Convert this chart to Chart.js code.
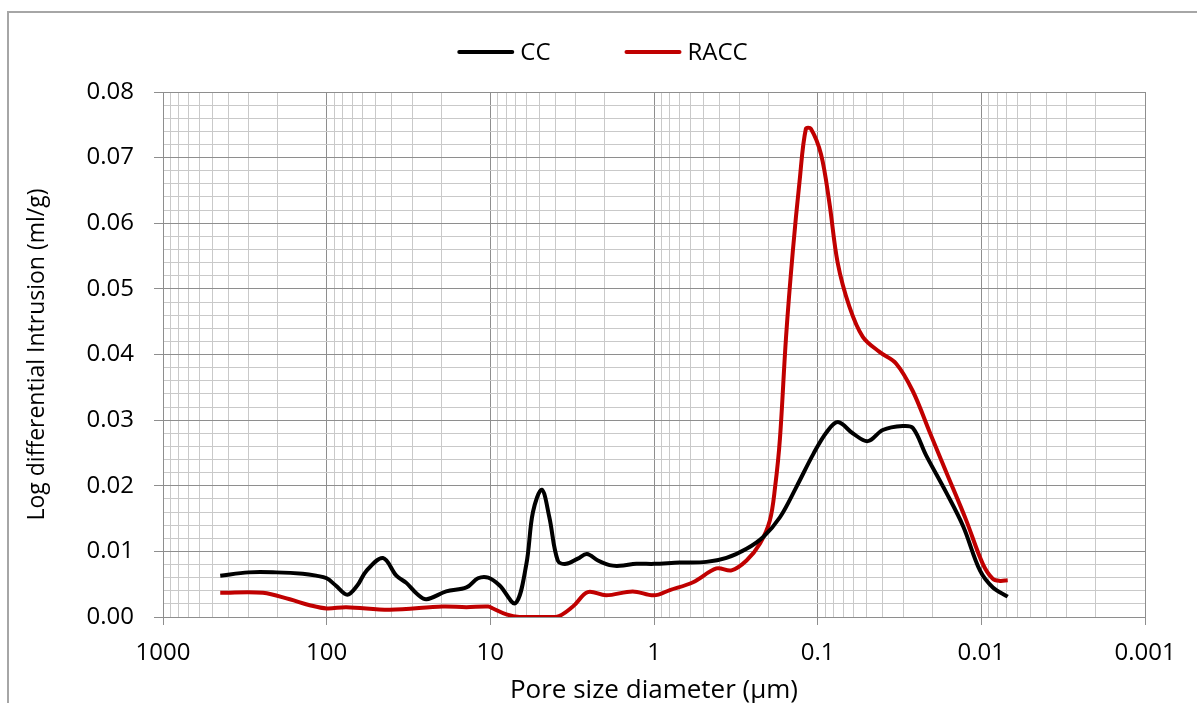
<!DOCTYPE html>
<html>
<head>
<meta charset="utf-8">
<script src="https://cdn.jsdelivr.net/npm/chart.js@4/dist/chart.umd.min.js"></script>
<style>
  html, body { margin: 0; padding: 0; background: #ffffff; overflow: hidden; }
  #wrap { position: relative; width: 1197px; height: 703px; }
</style>
</head>
<body>
<div id="wrap"><canvas id="poreChart" width="1197" height="703"></canvas></div>
<script>
// 孔径 (µm) 与对数微分压入量 (ml/g)
const ccSize = [447, 300, 203, 140, 116, 100, 88, 74.8, 65, 57.3,
    45.3, 37.5, 32.6, 28, 24.6, 18.6, 14.0, 11.9, 10.3, 8.77,
    7.03, 6.03, 5.49, 4.85, 4.36, 3.87, 3.44, 2.92, 2.57, 2.20,
    1.87, 1.62, 1.28, 1.0, 0.697, 0.479, 0.361, 0.272, 0.215, 0.170,
    0.135, 0.106, 0.088, 0.0752, 0.0611, 0.0494, 0.040, 0.0302, 0.0262, 0.0217,
    0.0164, 0.0129, 0.0102, 0.0085, 0.0069];
const ccValue = [0.0063, 0.0068, 0.0068, 0.0066, 0.0063, 0.0059, 0.0048, 0.0034, 0.0048, 0.0070,
    0.0090, 0.0063, 0.0052, 0.0035, 0.0027, 0.0039, 0.0045, 0.0059, 0.0060, 0.0048,
    0.0021, 0.0080, 0.0160, 0.0194, 0.0152, 0.0086, 0.0081, 0.0089, 0.0096, 0.0086,
    0.0079, 0.0078, 0.0081, 0.0081, 0.0083, 0.0084, 0.0090, 0.0104, 0.0122, 0.0152,
    0.0198, 0.0249, 0.0282, 0.0297, 0.0280, 0.0268, 0.0285, 0.0291, 0.0288, 0.0246,
    0.0190, 0.0138, 0.0071, 0.0045, 0.0031];

const raccSize = [447, 245, 168, 127, 100, 75.9, 41.2, 19.5, 14.0, 10.3,
    9.63, 7.98, 6.64, 3.96, 3.13, 2.54, 1.96, 1.35, 1.0, 0.80,
    0.577, 0.415, 0.336, 0.272, 0.225, 0.196, 0.182, 0.170, 0.156, 0.142,
    0.129, 0.118, 0.110, 0.0954, 0.085, 0.0755, 0.064, 0.053, 0.0419, 0.0331,
    0.0262, 0.0207, 0.0164, 0.0124, 0.0098, 0.0085, 0.0077, 0.0069];
const raccValue = [0.0037, 0.0037, 0.0027, 0.0018, 0.0013, 0.0015, 0.0011, 0.0016, 0.0015, 0.0016,
    0.0013, 0.0004, 0.0000, 0.0000, 0.0016, 0.0038, 0.0033, 0.0039, 0.0033, 0.0041,
    0.0053, 0.0074, 0.0071, 0.0086, 0.0112, 0.0147, 0.0198, 0.0272, 0.0427, 0.0556,
    0.0664, 0.0744, 0.0744, 0.0705, 0.0633, 0.0540, 0.0473, 0.0427, 0.0404, 0.0386,
    0.0344, 0.0282, 0.0221, 0.0148, 0.0081, 0.0058, 0.0055, 0.0056];

// 坐标轴范围
const xMin = 0.001;
const xMax = 1000;
const yMin = 0;
const yMax = 0.08;
const yStep = 0.002;

const FONT = '"Open Sans", Lato, sans-serif';
const MAJOR_GRID = '#8e8e8e';
const MINOR_GRID = '#c9c9c9';

function toPoints(xs, ys) {
    return xs.map(function(x, i) { return { x: x, y: ys[i] }; });
}

function isDecade(v) {
    const l = Math.log10(v);
    return Math.abs(l - Math.round(l)) < 1e-9;
}

function isYMajor(v) {
    return Math.abs(v * 100 - Math.round(v * 100)) < 1e-6;
}

// 外框
const frame = {
    id: 'frame',
    beforeDraw: function(chart) {
        const ctx = chart.ctx;
        ctx.save();
        ctx.fillStyle = '#ffffff';
        ctx.fillRect(0, 0, chart.width, chart.height);
        ctx.strokeStyle = '#a6a6a6';
        ctx.lineWidth = 2;
        ctx.strokeRect(8, 12, 1400, 1000);
        ctx.restore();
    }
};

// 图例（线段 + 文字，居中排在顶部）
const lineLegend = {
    id: 'lineLegend',
    afterDraw: function(chart) {
        const ctx = chart.ctx;
        const sets = chart.data.datasets;
        const lineLen = 57, textGap = 6, itemGap = 74, y = 52;
        ctx.save();
        ctx.font = '24px ' + FONT;
        ctx.textBaseline = 'middle';
        let total = 0;
        sets.forEach(function(ds, i) {
            total += lineLen + textGap + ctx.measureText(ds.label).width;
            if (i > 0) total += itemGap;
        });
        let x = chart.width / 2 + 4 - total / 2;
        sets.forEach(function(ds) {
            ctx.strokeStyle = ds.borderColor;
            ctx.lineWidth = 4;
            ctx.lineCap = 'round';
            ctx.beginPath();
            ctx.moveTo(x + 2, y);
            ctx.lineTo(x + lineLen - 2, y);
            ctx.stroke();
            x += lineLen + textGap;
            ctx.fillStyle = '#000000';
            ctx.fillText(ds.label, x, y + 1);
            x += ctx.measureText(ds.label).width + itemGap;
        });
        ctx.restore();
    }
};

const ctx = document.getElementById('poreChart').getContext('2d');
const chart = new Chart(ctx, {
    type: 'line',
    data: {
        datasets: [
            {
                label: 'CC',
                data: toPoints(ccSize, ccValue),
                borderColor: '#000000',
                backgroundColor: '#000000',
                borderWidth: 4,
                pointRadius: 0,
                tension: 0.35,
                fill: false
            },
            {
                label: 'RACC',
                data: toPoints(raccSize, raccValue),
                borderColor: '#c00000',
                backgroundColor: '#c00000',
                borderWidth: 4,
                pointRadius: 0,
                tension: 0.35,
                fill: false
            }
        ]
    },
    options: {
        responsive: false,
        animation: false,
        layout: {
            padding: { left: 0, right: 52, top: 92, bottom: 0 }
        },
        plugins: {
            legend: { display: false },
            tooltip: { enabled: false }
        },
        scales: {
            x: {
                type: 'logarithmic',
                reverse: true,
                min: xMin,
                max: xMax,
                afterBuildTicks: function(scale) {
                    const ticks = [];
                    for (let k = -3; k <= 2; k++) {
                        for (let m = 1; m <= 9; m++) {
                            ticks.push({ value: Number((m * Math.pow(10, k)).toPrecision(3)) });
                        }
                    }
                    ticks.push({ value: 1000 });
                    scale.ticks = ticks;
                },
                afterFit: function(scale) {
                    scale.height = 86;
                },
                ticks: {
                    autoSkip: false,
                    maxRotation: 0,
                    minRotation: 0,
                    padding: 14,
                    color: '#000000',
                    font: { family: FONT, size: 24 },
                    callback: function(value) {
                        return isDecade(value) ? String(Number(value.toPrecision(1))) : '';
                    }
                },
                grid: {
                    color: function(c) {
                        return c.tick && isDecade(c.tick.value) ? MAJOR_GRID : MINOR_GRID;
                    },
                    tickColor: function(c) {
                        return c.tick && isDecade(c.tick.value) ? MAJOR_GRID : 'rgba(0,0,0,0)';
                    },
                    tickLength: 8,
                    lineWidth: 1
                },
                border: { color: MAJOR_GRID, width: 1 },
                title: {
                    display: true,
                    text: 'Pore size diameter (µm)',
                    color: '#000000',
                    font: { family: FONT, size: 26 },
                    padding: { top: 0, bottom: -3 }
                }
            },
            y: {
                min: yMin,
                max: yMax,
                afterFit: function(scale) {
                    scale.width = 163;
                },
                ticks: {
                    stepSize: yStep,
                    autoSkip: false,
                    padding: 20,
                    color: '#000000',
                    font: { family: FONT, size: 24 },
                    callback: function(value) {
                        return isYMajor(value) ? value.toFixed(2) : '';
                    }
                },
                grid: {
                    color: function(c) {
                        return c.tick && isYMajor(c.tick.value) ? MAJOR_GRID : MINOR_GRID;
                    },
                    tickColor: function(c) {
                        return c.tick && isYMajor(c.tick.value) ? MAJOR_GRID : 'rgba(0,0,0,0)';
                    },
                    tickLength: 9,
                    lineWidth: 1
                },
                border: { color: MAJOR_GRID, width: 1 },
                title: {
                    display: true,
                    text: 'Log differential Intrusion (ml/g)',
                    color: '#000000',
                    font: { family: FONT, size: 23 },
                    padding: { top: 24, bottom: 0 }
                }
            }
        }
    },
    plugins: [frame, lineLegend]
});
</script>
</body>
</html>
